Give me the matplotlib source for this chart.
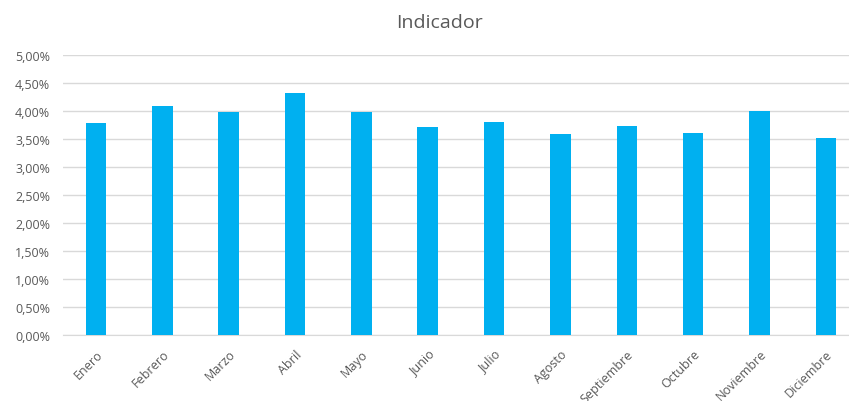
import matplotlib
matplotlib.use("Agg")
import matplotlib.pyplot as plt
from matplotlib.ticker import FuncFormatter

meses = ["Enero", "Febrero", "Marzo", "Abril", "Mayo", "Junio", "Julio",
         "Agosto", "Septiembre", "Octubre", "Noviembre", "Diciembre"]
valores = [3.78, 4.08, 3.97, 4.32, 3.97, 3.70, 3.80, 3.58, 3.72, 3.61, 4.00, 3.52]
yticks = [0, 0.5, 1.0, 1.5, 2.0, 2.5, 3.0, 3.5, 4.0, 4.5, 5.0]

gris = "#595959"
plt.rcParams['font.family'] = ['Open Sans', 'DejaVu Sans']

fig = plt.figure(figsize=(8.49, 4.02), dpi=100)
ax = fig.add_axes([0.0739, 0.165, 0.938, 0.6965])

x = range(len(meses))
ax.bar(x, valores, width=0.31, color="#00B0F0", zorder=3)

ax.set_xlim(-0.5, len(meses) - 0.5)
ax.set_ylim(0, 5)
ax.set_yticks(yticks)
ax.yaxis.set_major_formatter(FuncFormatter(lambda v, p: ("%.2f%%" % v).replace(".", ",")))
ax.set_xticks(list(x))
ax.set_xticklabels(meses, rotation=45, ha="right", rotation_mode="anchor")

ax.grid(axis="y", color="#d9d9d9", linewidth=1, zorder=0)
for s in ["top", "right", "left"]:
    ax.spines[s].set_visible(False)
ax.spines["bottom"].set_color("#d9d9d9")
ax.tick_params(axis="both", length=0, colors=gris, labelsize=9)
ax.tick_params(axis="y", pad=9)
ax.tick_params(axis="x", pad=9)

fig.text(440 / 849, 1 - 23 / 402, "Indicador", ha="center", va="center",
         fontsize=14, color=gris)

fig.savefig("out.png", dpi=100)
